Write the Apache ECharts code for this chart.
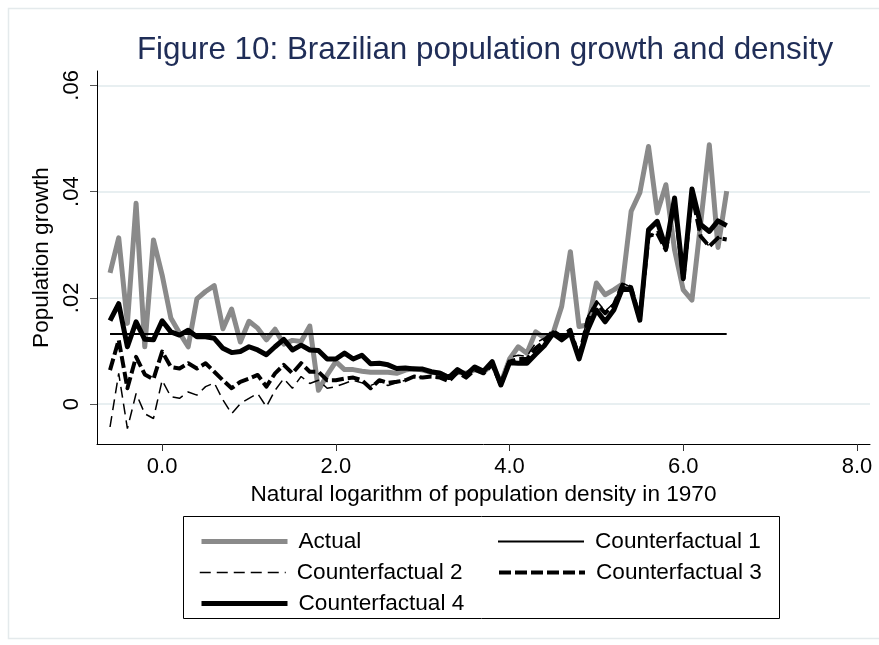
<!DOCTYPE html>
<html>
<head>
<meta charset="utf-8">
<script src="https://cdn.jsdelivr.net/npm/echarts@6.0.0/dist/echarts.min.js"></script>
<style>
  html, body { margin: 0; padding: 0; background: #fff; }
  #main { width: 879px; height: 645px; }
</style>
</head>
<body>
<div id="main"></div>
<script>
// x = ln(population density 1970), bins of 0.1
var xs = [-0.6, -0.5, -0.4, -0.3, -0.2, -0.1,
  0.0, 0.1, 0.2, 0.3, 0.4, 0.5, 0.6, 0.7, 0.8, 0.9,
  1.0, 1.1, 1.2, 1.3, 1.4, 1.5, 1.6, 1.7, 1.8, 1.9,
  2.0, 2.1, 2.2, 2.3, 2.4, 2.5, 2.6, 2.7, 2.8, 2.9,
  3.0, 3.1, 3.2, 3.3, 3.4, 3.5, 3.6, 3.7, 3.8, 3.9,
  4.0, 4.1, 4.2, 4.3, 4.4, 4.5, 4.6, 4.7, 4.8, 4.9,
  5.0, 5.1, 5.2, 5.3, 5.4, 5.5, 5.6, 5.7, 5.8, 5.9,
  6.0, 6.1, 6.2, 6.3, 6.4, 6.5];

var actual = [0.0247, 0.0313, 0.0152, 0.0378, 0.0108, 0.0309,
  0.0243, 0.0162, 0.0134, 0.0108, 0.0198, 0.0212, 0.0223, 0.0142, 0.0179, 0.0117,
  0.0156, 0.0143, 0.0121, 0.0141, 0.0113, 0.0120, 0.0118, 0.0147, 0.0026, 0.0055,
  0.0080, 0.0065, 0.0065, 0.0062, 0.0060, 0.0060, 0.0060, 0.0058, 0.0064, 0.0067,
  0.0064, 0.0060, 0.0058, 0.0050, 0.0060, 0.0058, 0.0065, 0.0060, 0.0075, 0.0040,
  0.0085, 0.0108, 0.0096, 0.0136, 0.0125, 0.0133, 0.0184, 0.0287, 0.0146, 0.0149,
  0.0228, 0.0206, 0.0215, 0.0226, 0.0363, 0.0398, 0.0485, 0.0360, 0.0413, 0.0290,
  0.0215, 0.0196, 0.0340, 0.0488, 0.0295, 0.0401];

// counterfactual 1 is flat
var cf1X = [-0.6, 6.5];
var cf1 = [0.0132, 0.0132];

var cf2 = [-0.0043, 0.0058, -0.0046, 0.0020, -0.0018, -0.0027,
  0.0045, 0.0014, 0.0011, 0.0023, 0.0017, 0.0033, 0.0040, 0.0008, -0.0018, 0.0001,
  0.0011, 0.0020, -0.0005, 0.0026, 0.0048, 0.0030, 0.0052, 0.0039, 0.0045, 0.0030,
  0.0033, 0.0039, 0.0045, 0.0040, 0.0035, 0.0042, 0.0035, 0.0040, 0.0045, 0.0052,
  0.0050, 0.0052, 0.0050, 0.0045, 0.0060, 0.0052, 0.0068, 0.0060, 0.0080, 0.0045,
  0.0088, 0.0092, 0.0090, 0.0115, 0.0124, 0.0138, 0.0130, 0.0142, 0.0095, 0.0165,
  0.0195, 0.0175, 0.0190, 0.0228, 0.0220, 0.0160, 0.0316, 0.0322, 0.0290, 0.0380,
  0.0235, 0.0395, 0.0316, 0.0297, 0.0313, 0.0310];

var cf3 = [0.0064, 0.0121, 0.0030, 0.0089, 0.0056, 0.0047,
  0.0099, 0.0070, 0.0067, 0.0077, 0.0067, 0.0077, 0.0061, 0.0045, 0.0030, 0.0042,
  0.0048, 0.0055, 0.0033, 0.0058, 0.0074, 0.0058, 0.0077, 0.0061, 0.0061, 0.0045,
  0.0045, 0.0048, 0.0050, 0.0045, 0.0030, 0.0045, 0.0040, 0.0042, 0.0045, 0.0052,
  0.0050, 0.0052, 0.0050, 0.0043, 0.0060, 0.0050, 0.0065, 0.0058, 0.0075, 0.0036,
  0.0080, 0.0085, 0.0085, 0.0105, 0.0118, 0.0138, 0.0127, 0.0140, 0.0088, 0.0160,
  0.0190, 0.0171, 0.0187, 0.0225, 0.0220, 0.0160, 0.0316, 0.0322, 0.0290, 0.0380,
  0.0235, 0.0395, 0.0316, 0.0297, 0.0313, 0.0310];

var cf4 = [0.0157, 0.0189, 0.0108, 0.0155, 0.0122, 0.0121,
  0.0157, 0.0136, 0.0130, 0.0139, 0.0127, 0.0127, 0.0124, 0.0105, 0.0097, 0.0099,
  0.0108, 0.0102, 0.0093, 0.0108, 0.0122, 0.0102, 0.0111, 0.0102, 0.0101, 0.0085,
  0.0085, 0.0096, 0.0085, 0.0092, 0.0076, 0.0077, 0.0074, 0.0067, 0.0068, 0.0066,
  0.0066, 0.0061, 0.0058, 0.0050, 0.0065, 0.0055, 0.0070, 0.0062, 0.0080, 0.0036,
  0.0078, 0.0077, 0.0077, 0.0094, 0.0110, 0.0133, 0.0121, 0.0134, 0.0085, 0.0140,
  0.0177, 0.0155, 0.0177, 0.0218, 0.0215, 0.0158, 0.0328, 0.0344, 0.0294, 0.0388,
  0.0237, 0.0405, 0.0338, 0.0325, 0.0345, 0.0336];

var xTicks = [0, 2, 4, 6, 8];
var yTicks = [0, 0.02, 0.04, 0.06];

var FONT = '"Liberation Sans", Arial, Helvetica, sans-serif';

function pairs(x, y) {
  return x.map(function (v, i) { return [v, y[i]]; });
}

// one legend box per entry so the two-column layout can be placed by hand
function legendItem(name, left, top, lineStyle) {
  return {
    data: [name],
    left: left,
    top: top,
    orient: 'horizontal',
    itemWidth: 86,
    itemHeight: 14,
    selectedMode: false,
    lineStyle: lineStyle,
    itemStyle: { opacity: 0 },   // hide the circle ECharts puts on line icons
    textStyle: { fontFamily: FONT, fontSize: 22.6, color: '#000', padding: [0, 0, 0, 6] }
  };
}

var GRAY = '#8a8a8a';
var DASH2 = [11, 6];
var DASH3 = [12, 4];

var chart = echarts.init(document.getElementById('main'), null, { renderer: 'canvas' });
chart.setOption({
  animation: false,
  backgroundColor: '#fff',
  title: {
    text: 'Figure 10: Brazilian population growth and density',
    left: 480,
    textAlign: 'center',
    top: 30,
    textStyle: { fontFamily: FONT, fontSize: 31.4, fontWeight: 'normal', color: '#1f2d57' }
  },
  grid: { left: 97, right: 9, top: 71, bottom: 201 },
  xAxis: {
    type: 'value',
    min: -0.75,
    max: 8.15,
    name: 'Natural logarithm of population density in 1970',
    nameLocation: 'middle',
    nameGap: 38,
    nameTextStyle: { fontFamily: FONT, fontSize: 22.6, color: '#000' },
    axisLine: { show: true, onZero: false, lineStyle: { color: '#000', width: 1 } },
    axisTick: { show: true, length: 7, customValues: xTicks, lineStyle: { color: '#333' } },
    axisLabel: {
      customValues: xTicks,
      margin: 12,
      fontFamily: FONT, fontSize: 22, color: '#000',
      formatter: function (v) { return v.toFixed(1); }
    },
    splitLine: { show: false }
  },
  yAxis: {
    type: 'value',
    min: -0.0075,
    max: 0.0627,
    name: 'Population growth',
    nameLocation: 'middle',
    nameGap: 39,
    nameTextStyle: { fontFamily: FONT, fontSize: 22.6, color: '#000' },
    axisLine: { show: true, onZero: false, lineStyle: { color: '#000', width: 1 } },
    axisTick: { show: true, length: 7, customValues: yTicks, lineStyle: { color: '#555' } },
    axisLabel: {
      customValues: yTicks,
      rotate: 90,
      margin: 14,
      fontFamily: FONT, fontSize: 22, color: '#000',
      formatter: function (v) {
        if (Math.abs(v) < 1e-9) return '0';
        return String(+v.toFixed(2)).replace(/^0/, '');
      }
    },
    splitLine: { show: true, lineStyle: { color: '#e8eff1', width: 2 } }
  },
  legend: [
    legendItem('Actual', 194, 525, { color: GRAY, width: 5, type: 'solid' }),
    legendItem('Counterfactual 1', 492, 525, { color: '#000', width: 2, type: 'solid' }),
    legendItem('Counterfactual 2', 194, 556, { color: '#000', width: 1.5, type: DASH2 }),
    legendItem('Counterfactual 3', 492, 556, { color: '#000', width: 4, type: DASH3 }),
    legendItem('Counterfactual 4', 194, 587, { color: '#000', width: 5, type: 'solid' })
  ],
  graphic: [
    {
      type: 'rect', z: -10, silent: true,
      shape: { x: 8.5, y: 8.5, width: 890, height: 630 },
      style: { fill: 'none', stroke: '#e4eaec', lineWidth: 1.5 }
    },
    {
      type: 'rect', silent: true,
      shape: { x: 183.5, y: 516.5, width: 596, height: 102 },
      style: { fill: 'none', stroke: '#000', lineWidth: 1 }
    }
  ],
  series: [
    {
      name: 'Actual', type: 'line', symbol: 'none',
      data: pairs(xs, actual),
      lineStyle: { color: GRAY, width: 5, join: 'round' },
      itemStyle: { color: GRAY }
    },
    {
      name: 'Counterfactual 1', type: 'line', symbol: 'none',
      data: pairs(cf1X, cf1),
      lineStyle: { color: '#000', width: 2 },
      itemStyle: { color: '#000' }
    },
    {
      name: 'Counterfactual 2', type: 'line', symbol: 'none',
      data: pairs(xs, cf2),
      lineStyle: { color: '#000', width: 1.5, type: DASH2 },
      itemStyle: { color: '#000' }
    },
    {
      name: 'Counterfactual 3', type: 'line', symbol: 'none',
      data: pairs(xs, cf3),
      lineStyle: { color: '#000', width: 4, type: DASH3, join: 'round' },
      itemStyle: { color: '#000' }
    },
    {
      name: 'Counterfactual 4', type: 'line', symbol: 'none',
      data: pairs(xs, cf4),
      lineStyle: { color: '#000', width: 5, join: 'round' },
      itemStyle: { color: '#000' }
    }
  ]
});
</script>
</body>
</html>
